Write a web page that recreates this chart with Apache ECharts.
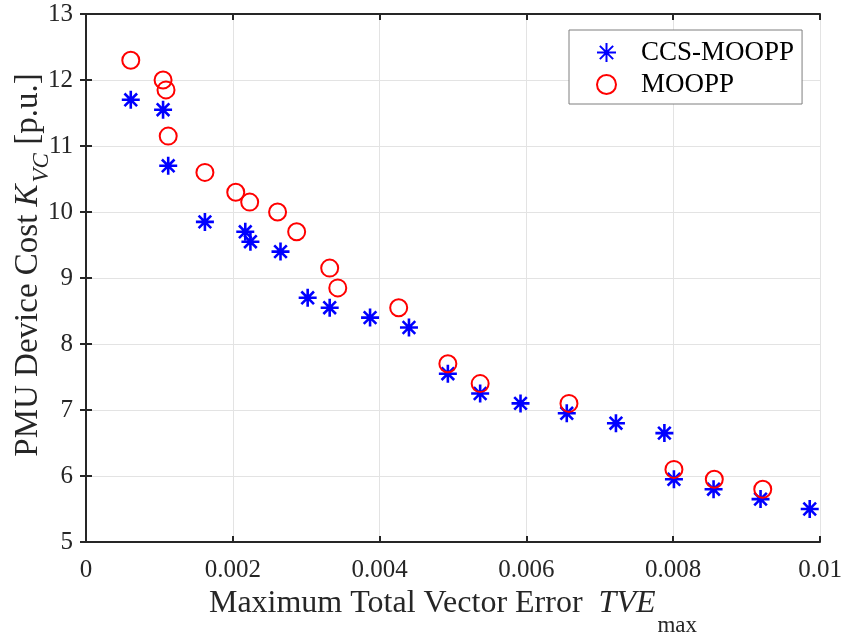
<!DOCTYPE html>
<html>
<head>
<meta charset="utf-8">
<script src="https://cdn.jsdelivr.net/npm/echarts@6/dist/echarts.min.js"></script>
<style>
  html, body { margin: 0; padding: 0; background: #fff; }
  #chart { width: 845px; height: 639px; }
</style>
</head>
<body>
<div id="chart"></div>
<script>
// CCS-MOOPP points (TVEmax, cost)
const ccsX = [0.00061, 0.00105, 0.00112, 0.00162, 0.00217, 0.00224, 0.00265, 0.00302, 0.00332, 0.00387, 0.00440,
              0.00493, 0.00537, 0.00592, 0.00655, 0.00722, 0.00788, 0.00801, 0.00855, 0.00919, 0.00986];
const ccsY = [11.70, 11.55, 10.70, 9.85, 9.70, 9.55, 9.40, 8.70, 8.55, 8.40, 8.25,
              7.55, 7.25, 7.10, 6.95, 6.80, 6.65, 5.95, 5.80, 5.65, 5.50];
// MOOPP points
const moX = [0.00061, 0.00105, 0.00109, 0.00112, 0.00162, 0.00204, 0.00223, 0.00261, 0.00287, 0.00332, 0.00343,
             0.00426, 0.00493, 0.00537, 0.00658, 0.00801, 0.00856, 0.00922];
const moY = [12.30, 12.00, 11.85, 11.15, 10.60, 10.30, 10.15, 10.00, 9.70, 9.15, 8.85,
             8.55, 7.70, 7.40, 7.10, 6.10, 5.95, 5.80];

const seriesNames = ['CCS-MOOPP', 'MOOPP'];
const xTicks = [0, 0.002, 0.004, 0.006, 0.008, 0.01];

const zip = (xs, ys) => xs.map((x, i) => [x, ys[i]]);
const font = 'Liberation Serif, Times New Roman, serif';
const txt = '#262626';

const starPath = 'path://M0,-10L0,10M-10,0L10,0M-7,-7L7,7M-7,7L7,-7';

const chart = echarts.init(document.getElementById('chart'));

const plainAxis = {
    axisLine: { show: true, lineStyle: { color: txt, width: 2 } },
    axisTick: { show: true, inside: true, length: 6, lineStyle: { color: txt, width: 2 } },
};

// rich styles for axis titles with subscripts
const nameRich = (size, subSize, subPad, subItalic, subGap, lead) => ({
    p: { fontFamily: font, fontSize: size, color: txt, lineHeight: 34, verticalAlign: 'top', padding: [0, 0, 0, lead] },
    a: { fontFamily: font, fontSize: size, color: txt, lineHeight: 34, verticalAlign: 'top' },
    i: { fontFamily: font, fontSize: size, color: txt, fontStyle: 'italic', lineHeight: 34, verticalAlign: 'top' },
    s: { fontFamily: font, fontSize: subSize, color: txt, fontStyle: subItalic ? 'italic' : 'normal',
         verticalAlign: 'top', padding: [subPad, 0, 0, subGap], lineHeight: 30 }
});

const option = {
    animation: false,
    grid: { left: 86, right: 25, top: 14, bottom: 97, containLabel: false, outerBoundsMode: 'none' },
    legend: {
        orient: 'vertical',
        left: 569,
        top: 30,
        padding: [9, 8, 6, 27],
        itemGap: 5,
        itemWidth: 19,
        itemHeight: 19,
        borderColor: '#7f7f7f',
        borderWidth: 1,
        borderRadius: 0,
        backgroundColor: '#fff',
        textStyle: { fontFamily: font, fontSize: 27, lineHeight: 26, color: '#000', padding: [0, 0, 0, 20] },
        data: seriesNames
    },
    xAxis: [{
        type: 'value',
        min: 0, max: 0.01, interval: 0.002,
        ...plainAxis,
        splitLine: { show: true, lineStyle: { color: '#e3e3e3', width: 1 } },
        axisLabel: {
            fontFamily: font, fontSize: 25, color: txt, margin: 16,
            formatter: v => xTicks.includes(+v.toFixed(3)) ? String(+v.toFixed(3)) : ''
        },
        name: '{p|Maximum Total Vector Error  }{i|TVE}{s|max}',
        nameLocation: 'middle',
        nameGap: 44,
        nameTextStyle: { rich: nameRich(32, 23, 27, false, 2, 0) }
    }, {
        type: 'value', position: 'top',
        min: 0, max: 0.01, interval: 0.002,
        ...plainAxis,
        splitLine: { show: false },
        axisLabel: { show: false }
    }],
    yAxis: [{
        type: 'value',
        min: 5, max: 13, interval: 1,
        ...plainAxis,
        splitLine: { show: true, lineStyle: { color: '#e3e3e3', width: 1 } },
        axisLabel: { fontFamily: font, fontSize: 25, color: txt, margin: 13 },
        name: '{p|PMU Device Cost }{i|K}{s|VC}{a| [p.u.]}',
        nameLocation: 'middle',
        nameRotate: 90,
        nameGap: 40,
        nameMoveOverlap: false,
        nameTextStyle: { rich: nameRich(33, 23, 18, true, 2, 26) }
    }, {
        type: 'value', position: 'right',
        min: 5, max: 13, interval: 1,
        ...plainAxis,
        splitLine: { show: false },
        axisLabel: { show: false }
    }],
    series: [{
        name: seriesNames[0],
        type: 'scatter',
        symbol: starPath,
        symbolSize: 18,
        itemStyle: { color: 'rgba(0,0,0,0)', borderColor: '#0000ff', borderWidth: 2.6, opacity: 1 },
        data: zip(ccsX, ccsY),
        z: 3
    }, {
        name: seriesNames[1],
        type: 'scatter',
        symbol: 'circle',
        symbolSize: 17,
        itemStyle: { color: 'rgba(0,0,0,0)', borderColor: '#ff0000', borderWidth: 2, opacity: 1 },
        data: zip(moX, moY),
        z: 4
    }]
};

chart.setOption(option);
</script>
</body>
</html>
